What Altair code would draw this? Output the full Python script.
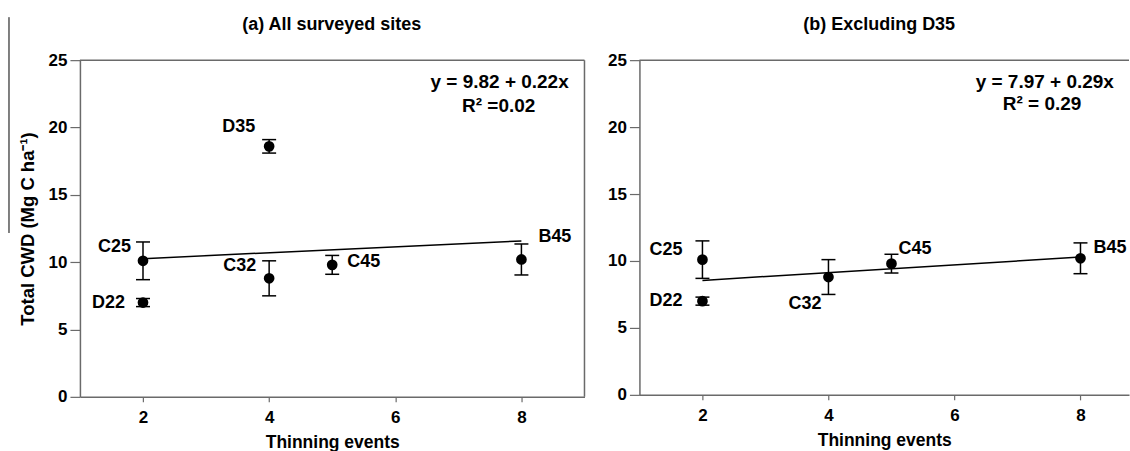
import altair as alt
import pandas as pd

# Site means of total coarse woody debris (Mg C/ha) with standard errors
sites = ["D22", "C25", "D35", "C32", "C45", "B45"]
thinning_events = [2, 2, 4, 4, 5, 8]
cwd_mean = [7.0, 10.1, 18.6, 8.8, 9.8, 10.2]
cwd_se = [0.3, 1.4, 0.5, 1.3, 0.7, 1.15]

# Linear fits reported on each panel
fit_all = {"intercept": 9.82, "slope": 0.22, "eq": "y = 9.82 + 0.22x", "r2": "R\u00b2 =0.02"}
fit_excl = {"intercept": 7.97, "slope": 0.29, "eq": "y = 7.97 + 0.29x", "r2": "R\u00b2 = 0.29"}
fit_x = [2, 8]

y_ticks = [0, 5, 10, 15, 20, 25]
x_ticks = [2, 4, 6, 8]

FONT = "Liberation Sans"
FRAME = "#6a6a6a"

df = pd.DataFrame({"site": sites, "thin": thinning_events, "cwd": cwd_mean, "se": cwd_se})
df["lo"] = df["cwd"] - df["se"]
df["hi"] = df["cwd"] + df["se"]
one_row = pd.DataFrame({"k": [0]})


def panel(data, fit, title, title_x, xmax, width, height, label_pos, eq_at, r2_at,
          show_ytitle, right_border, extra=None):
    xs = alt.Scale(domain=[1, xmax], nice=False, zero=False)
    ys = alt.Scale(domain=[0, 25], nice=False)
    xaxis = alt.Axis(values=x_ticks, format="d", grid=False, title="Thinning events",
                     domainColor=FRAME, domainWidth=1.5, tickColor=FRAME, tickWidth=1.2,
                     tickSize=5, labelPadding=8, titlePadding=8, titleFontSize=17.5)
    yaxis = alt.Axis(values=y_ticks, format="d", grid=False,
                     title="Total CWD (Mg C ha\u207b\u00b9)" if show_ytitle else None,
                     domainColor=FRAME, domainWidth=1.5, tickColor=FRAME, tickWidth=1.2,
                     tickSize=10, labelPadding=3, titlePadding=11, titleFontSize=18.5)
    X = lambda f: alt.X(f, type="quantitative", scale=xs, axis=xaxis)
    Y = lambda f: alt.Y(f, type="quantitative", scale=ys, axis=yaxis)

    base = alt.Chart(data)
    bars = base.mark_rule(color="black", strokeWidth=1.5).encode(
        x=X("thin"), y=Y("lo"), y2="hi")
    cap_lo = base.mark_point(shape="M-1,0L1,0", size=196, filled=False,
                             stroke="black", strokeWidth=1.5, opacity=1).encode(x=X("thin"), y=Y("lo"))
    cap_hi = base.mark_point(shape="M-1,0L1,0", size=196, filled=False,
                             stroke="black", strokeWidth=1.5, opacity=1).encode(x=X("thin"), y=Y("hi"))

    line_df = pd.DataFrame({"thin": fit_x,
                            "cwd": [fit["intercept"] + fit["slope"] * v for v in fit_x]})
    reg = alt.Chart(line_df).mark_line(color="black", strokeWidth=1.5).encode(
        x=X("thin"), y=Y("cwd"))

    pts = base.mark_circle(size=115, color="black", opacity=1).encode(x=X("thin"), y=Y("cwd"))

    layers = [bars, cap_lo, cap_hi, reg, pts]

    for site, (align, dx, dy) in label_pos.items():
        layers.append(
            base.transform_filter(alt.datum.site == site).mark_text(
                align=align, baseline="middle", dx=dx, dy=dy, font=FONT,
                fontSize=18, fontWeight="bold", color="black"
            ).encode(x=X("thin"), y=Y("cwd"), text="site:N"))

    ann = pd.DataFrame({"thin": [eq_at[0], r2_at[0]], "cwd": [eq_at[1], r2_at[1]],
                        "txt": [fit["eq"], fit["r2"]], "al": ["right", "center"]})
    layers.append(alt.Chart(ann).transform_filter(alt.datum.al == "right").mark_text(
        align="right", baseline="middle", font=FONT, fontSize=19, fontWeight="bold",
        color="black").encode(x=X("thin"), y=Y("cwd"), text="txt:N"))
    layers.append(alt.Chart(ann).transform_filter(alt.datum.al == "center").mark_text(
        align="center", baseline="middle", font=FONT, fontSize=19, fontWeight="bold",
        color="black").encode(x=X("thin"), y=Y("cwd"), text="txt:N"))

    # top edge of the frame (and right edge where the panel is complete)
    layers.append(alt.Chart(one_row).mark_rule(color=FRAME, strokeWidth=1.5).encode(
        x=alt.value(0), x2=alt.value(width), y=alt.value(0)))
    if right_border:
        layers.append(alt.Chart(one_row).mark_rule(color=FRAME, strokeWidth=1.5).encode(
            x=alt.value(width), y=alt.value(0), y2=alt.value(height)))

    # panel heading
    layers.append(alt.Chart(one_row).mark_text(
        align="center", baseline="middle", font=FONT, fontSize=18, fontWeight="bold",
        color="black").encode(x=alt.value(title_x), y=alt.value(-35), text=alt.value(title)))

    if extra is not None:
        layers.append(extra)

    return alt.layer(*layers).properties(width=width, height=height)


edge_line = alt.Chart(one_row).mark_rule(color="black", strokeWidth=1).encode(
    x=alt.value(-71), y=alt.value(-43), y2=alt.value(173))

labels_all = {
    "D22": ("right", -18, 0),
    "C25": ("right", -12, -14),
    "D35": ("right", -14, -19),
    "C32": ("right", -13, -12),
    "C45": ("left", 15, -3),
    "B45": ("left", 17, -22),
}
labels_excl = {
    "D22": ("right", -20, 0),
    "C25": ("right", -20, -10),
    "C32": ("right", -7, 27),
    "C45": ("left", 7, -15),
    "B45": ("left", 13, -10),
}

left = panel(df, fit_all, "(a)  All surveyed sites", 252, 9, 505, 337, labels_all,
             (8.75, 23.4), (7.64, 21.6), True, True, extra=edge_line)
right = panel(df[df["site"] != "D35"], fit_excl, "(b)  Excluding D35", 240, 8.77, 490, 335,
              labels_excl, (8.53, 23.4), (7.39, 21.7), False, False)

chart = alt.hconcat(left, right, spacing=22).properties(
    padding={"left": 8, "top": 16, "right": 0, "bottom": 0},
    background="white",
).configure_view(stroke=None).configure_axis(
    labelFont=FONT, labelFontSize=17, labelFontWeight="bold", labelColor="black",
    titleFont=FONT, titleFontSize=17, titleFontWeight="bold", titleColor="black",
)

chart.save("out.html", embed_options={"renderer": "svg", "actions": False})
